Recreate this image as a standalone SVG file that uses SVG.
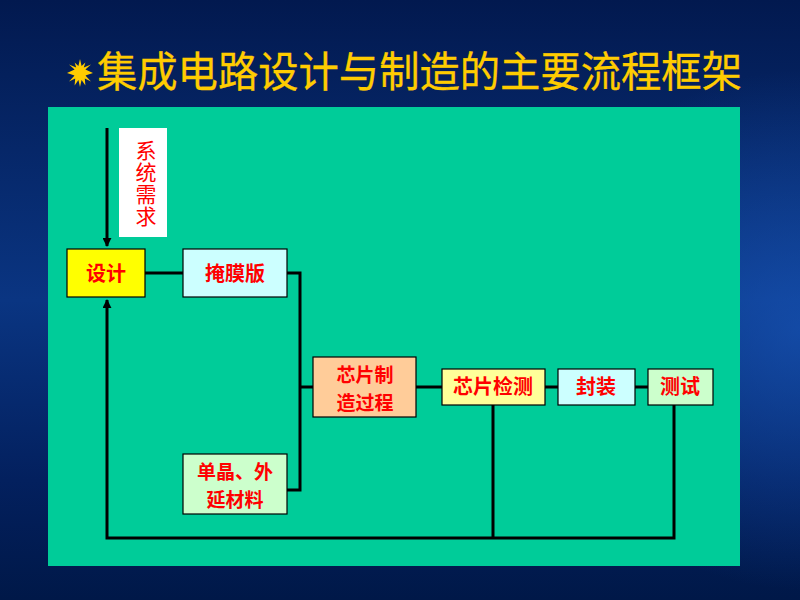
<svg xmlns="http://www.w3.org/2000/svg" width="800" height="600" viewBox="0 0 800 600">
<defs>
<linearGradient id="bg" x1="0" y1="0" x2="0" y2="1">
<stop offset="0" stop-color="#02194f"/>
<stop offset="0.5" stop-color="#0a3582"/>
<stop offset="0.8" stop-color="#03205e"/>
<stop offset="1" stop-color="#001848"/>
</linearGradient>
<radialGradient id="glow" cx="800" cy="330" r="260" gradientUnits="userSpaceOnUse">
<stop offset="0" stop-color="#1a5ac0" stop-opacity="0.6"/>
<stop offset="1" stop-color="#1a5ac0" stop-opacity="0"/>
</radialGradient>
<marker id="arr" viewBox="0 0 10 10" refX="9" refY="5" markerWidth="3" markerHeight="3" orient="auto" markerUnits="strokeWidth">
<path d="M0,0 L10,5 L0,10 z" fill="#000"/>
</marker>
<style>
.box{stroke:#000;stroke-width:1.2}
.lbl{font-family:"Noto Sans CJK SC","Liberation Sans",sans-serif;font-size:20px;font-weight:bold;fill:#ff0000;text-anchor:middle}
.two{font-size:19px}
.ln{fill:none;stroke:#000;stroke-width:3;stroke-linejoin:miter}
</style>
</defs>
<rect width="800" height="600" fill="url(#bg)"/>
<rect width="800" height="600" fill="url(#glow)"/>
<g id="title">
<polygon fill="#ffcc00" points="80,59 81.6,66.1 85.4,62.6 83.8,67.6 91,64.4 85.4,69.4 93,73 85.4,75.6 91,81.6 84.8,78.4 85.4,85.4 81.6,79.9 80,87 78.4,79.9 74.6,85.4 75.2,78.4 69,81.6 74.6,75.6 67,73 74.6,69.4 69,64.4 76.2,67.6 74.6,62.6 78.4,66.1"/>
<circle cx="80" cy="73" r="6" fill="#ffcc00"/>
<text x="97" y="87" font-family="Noto Sans CJK SC, sans-serif" font-size="42" fill="#ffcc00" stroke="#ffcc00" stroke-width="0.3" textLength="645" lengthAdjust="spacingAndGlyphs">集成电路设计与制造的主要流程框架</text>
</g>
<rect id="panel" x="48" y="107" width="692" height="459" fill="#00cc99"/>
<g id="connectors">
<line class="ln" x1="107" y1="128" x2="107" y2="246" marker-end="url(#arr)"/>
<polyline class="ln" points="674,405 674,538 107,538 107,300" marker-end="url(#arr)"/>
<line class="ln" x1="493" y1="405" x2="493" y2="538"/>
<line class="ln" x1="145" y1="273" x2="183" y2="273"/>
<polyline class="ln" points="287,273 300,273 300,490 287,490"/>
<line class="ln" x1="300" y1="387" x2="313" y2="387"/>
<line class="ln" x1="416" y1="387" x2="442" y2="387"/>
<line class="ln" x1="545" y1="387" x2="558" y2="387"/>
<line class="ln" x1="635" y1="387" x2="648" y2="387"/>
</g>
<g id="req">
<rect x="119" y="128" width="48" height="109" fill="#ffffff"/>
<text class="lbl" x="146" y="184" writing-mode="vertical-rl" letter-spacing="1" style="font-weight:normal;font-size:21px">系统需求</text>
</g>
<g id="design">
<rect class="box" x="67" y="249" width="78" height="48" fill="#ffff00"/>
<text class="lbl" x="106" y="281">设计</text>
</g>
<g id="mask">
<rect class="box" x="183" y="249" width="104" height="48" fill="#ccffff"/>
<text class="lbl" x="235" y="281">掩膜版</text>
</g>
<g id="fab">
<rect class="box" x="313" y="357" width="103" height="60" fill="#ffcc99"/>
<text class="lbl two" x="365" y="382"><tspan x="365">芯片制</tspan><tspan x="365" dy="28">造过程</tspan></text>
</g>
<g id="inspect">
<rect class="box" x="442" y="369" width="103" height="36" fill="#ffff99"/>
<text class="lbl" x="493" y="394">芯片检测</text>
</g>
<g id="package">
<rect class="box" x="558" y="369" width="77" height="36" fill="#ccffff"/>
<text class="lbl" x="596" y="394">封装</text>
</g>
<g id="test">
<rect class="box" x="648" y="369" width="65" height="36" fill="#ccffcc"/>
<text class="lbl" x="680" y="394">测试</text>
</g>
<g id="material">
<rect class="box" x="183" y="454" width="104" height="60" fill="#ccffcc"/>
<text class="lbl two" x="235" y="479"><tspan x="235">单晶、外</tspan><tspan x="235" dy="28">延材料</tspan></text>
</g>
</svg>
